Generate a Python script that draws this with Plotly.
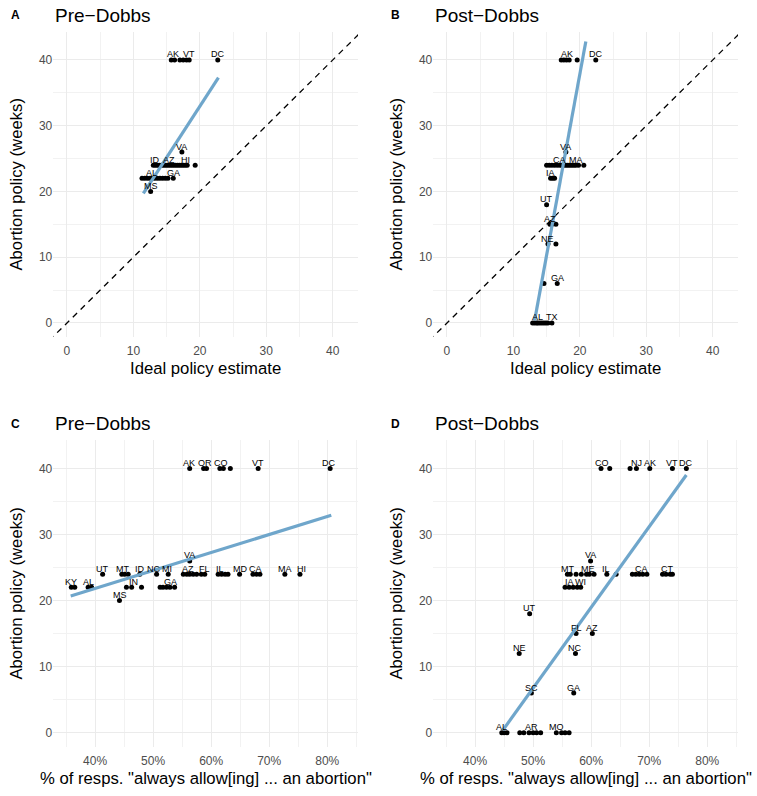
import plotly.graph_objects as go

FONT = "Liberation Sans, Arial, Helvetica, sans-serif"

# ---------------- Panel A: Pre-Dobbs, ideal policy estimate ----------------
A_x = [15.7, 16.2, 17.0, 17.5, 18.0, 18.4, 22.7,
       17.3,
       13.0, 13.3, 13.6, 13.9, 14.2, 14.5, 14.8, 15.1, 15.4, 15.7, 16.0, 16.3, 16.6, 16.9, 17.2, 17.5, 17.8, 18.1, 19.3,
       11.3, 11.7, 12.1, 12.5, 12.8, 13.2, 13.6, 14.0, 14.4, 14.8, 15.2, 16.0,
       12.6]
A_y = [40, 40, 40, 40, 40, 40, 40,
       26,
       24, 24, 24, 24, 24, 24, 24, 24, 24, 24, 24, 24, 24, 24, 24, 24, 24, 24, 24,
       22, 22, 22, 22, 22, 22, 22, 22, 22, 22, 22, 22,
       20]
A_lab = ["AK", "VT", "DC", "VA", "ID", "AZ", "HI", "AL", "GA", "MS"]
A_lab_x = [15.9, 18.4, 22.7, 17.3, 13.3, 15.4, 17.8, 12.7, 16.1, 12.6]
A_lab_y = [40, 40, 40, 26, 24, 24, 24, 22, 22, 20]
A_fit_x = [11.5, 22.8]
A_fit_y = [19.7, 37.3]

# ---------------- Panel B: Post-Dobbs, ideal policy estimate ----------------
B_x = [17.2, 17.6, 18.0, 18.4, 19.6, 22.4,
       17.9,
       15.0, 15.4, 15.8, 16.2, 16.6, 17.0, 17.3, 17.6, 17.9, 18.2, 18.5, 18.8, 19.1, 19.4, 19.8, 20.6,
       15.6, 15.9, 16.2,
       15.0,
       15.5, 15.8, 16.4,
       15.2, 16.4,
       14.6, 16.6,
       12.9, 13.2, 13.5, 13.7, 14.0, 14.3, 14.6, 14.9, 15.2, 15.8]
B_y = [40, 40, 40, 40, 40, 40,
       26,
       24, 24, 24, 24, 24, 24, 24, 24, 24, 24, 24, 24, 24, 24, 24, 24,
       22, 22, 22,
       18,
       15, 15, 15,
       12, 12,
       6, 6,
       0, 0, 0, 0, 0, 0, 0, 0, 0, 0]
B_lab = ["AK", "DC", "VA", "CA", "MA", "IA", "UT", "AZ", "NE", "GA", "AL", "TX"]
B_lab_x = [18.0, 22.4, 17.9, 17.0, 19.4, 15.6, 15.0, 15.5, 15.2, 16.6, 13.7, 15.8]
B_lab_y = [40, 40, 26, 24, 24, 22, 18, 15, 12, 6, 0, 0]
B_fit_x = [13.2, 20.9]
B_fit_y = [0.4, 42.8]

# ---------------- Panel C: Pre-Dobbs, % always allow ----------------
C_x = [56.3, 58.7, 59.2, 61.5, 62.1, 63.3, 68.1, 80.5,
       56.3,
       41.3, 44.6, 45.1, 45.7, 47.7, 50.6, 52.6, 55.2, 55.8, 56.3, 56.9, 57.5, 58.3, 58.9,
       61.2, 61.8, 62.4, 62.9, 64.9, 67.2, 67.8, 68.4, 72.7, 75.3,
       35.9, 36.5, 38.8, 39.4, 45.4, 46.3, 48.0, 51.2, 51.7, 52.3, 52.9, 53.7,
       44.2]
C_y = [40, 40, 40, 40, 40, 40, 40, 40,
       26,
       24, 24, 24, 24, 24, 24, 24, 24, 24, 24, 24, 24, 24, 24,
       24, 24, 24, 24, 24, 24, 24, 24, 24, 24,
       22, 22, 22, 22, 22, 22, 22, 22, 22, 22, 22, 22,
       20]
C_lab = ["AK", "OR", "CO", "VT", "DC", "VA", "UT", "MT", "ID", "NC", "MI", "AZ", "FL", "IL",
         "MD", "CA", "MA", "HI", "KY", "AL", "IN", "GA", "MS"]
C_lab_x = [56.2, 59.0, 61.7, 68.1, 80.3, 56.3, 41.3, 44.8, 47.7, 50.1, 52.4, 56.0, 58.9, 61.6,
           65.0, 67.7, 72.7, 75.5, 35.9, 38.9, 46.7, 53.0, 44.3]
C_lab_y = [40, 40, 40, 40, 40, 26, 24, 24, 24, 24, 24, 24, 24, 24,
           24, 24, 24, 24, 22, 22, 22, 22, 20]
C_fit_x = [35.8, 80.7]
C_fit_y = [20.7, 32.9]

# ---------------- Panel D: Post-Dobbs, % always allow ----------------
D_x = [61.7, 63.2, 66.7, 67.8, 70.1, 74.0, 76.4,
       59.9,
       55.9, 56.4, 57.4, 58.3, 59.2, 59.7, 60.5, 62.7, 64.3, 67.1, 67.7, 68.3, 68.9, 69.6, 72.3, 72.9, 73.6, 74.0,
       55.5, 56.2, 56.9, 57.6, 58.2,
       49.4,
       57.4, 60.2,
       47.6, 57.3,
       49.7, 57.0,
       44.6, 45.0, 45.5, 47.7, 48.4, 49.3, 50.0, 50.6, 51.3, 54.0, 54.9, 55.5, 56.2]
D_y = [40, 40, 40, 40, 40, 40, 40,
       26,
       24, 24, 24, 24, 24, 24, 24, 24, 24, 24, 24, 24, 24, 24, 24, 24, 24, 24,
       22, 22, 22, 22, 22,
       18,
       15, 15,
       12, 12,
       6, 6,
       0, 0, 0, 0, 0, 0, 0, 0, 0, 0, 0, 0, 0]
D_lab = ["CO", "NJ", "AK", "VT", "DC", "VA", "MT", "ME", "IL", "CA", "CT", "IA", "WI", "UT",
         "FL", "AZ", "NE", "NC", "SC", "GA", "AL", "AR", "MO"]
D_lab_x = [61.8, 67.8, 70.1, 74.0, 76.4, 59.9, 56.0, 59.5, 62.5, 68.7, 73.2, 56.3, 58.2, 49.4,
           57.4, 60.2, 47.6, 57.3, 49.7, 57.0, 44.6, 49.7, 54.0]
D_lab_y = [40, 40, 40, 40, 40, 26, 24, 24, 24, 24, 24, 22, 22, 18,
           15, 15, 12, 12, 6, 6, 0, 0, 0]
D_fit_x = [44.8, 76.4]
D_fit_y = [0.4, 39.0]

# ---------------- axis ticks ----------------
ideal_ticks = [0, 10, 20, 30, 40]
ideal_minor = [5, 15, 25, 35]
pct_ticks = [40, 50, 60, 70, 80]
pct_labels = ["40%", "50%", "60%", "70%", "80%"]
pct_minor = [35, 45, 55, 65, 75, 85]
week_ticks = [0, 10, 20, 30, 40]
week_minor = [5, 15, 25, 35]
diag = [-5, 50]

titles = ["Pre\u2212Dobbs", "Post\u2212Dobbs", "Pre\u2212Dobbs", "Post\u2212Dobbs"]
letters = ["A", "B", "C", "D"]
xtitles = ["Ideal policy estimate", "Ideal policy estimate",
           '% of resps. "always allow[ing] ... an abortion"',
           '% of resps. "always allow[ing] ... an abortion"']

W, H = 757, 796
LINE_COL = "#6FA6CB"

panels = [
    (A_x, A_y, A_lab, A_lab_x, A_lab_y, A_fit_x, A_fit_y, True),
    (B_x, B_y, B_lab, B_lab_x, B_lab_y, B_fit_x, B_fit_y, True),
    (C_x, C_y, C_lab, C_lab_x, C_lab_y, C_fit_x, C_fit_y, False),
    (D_x, D_y, D_lab, D_lab_x, D_lab_y, D_fit_x, D_fit_y, False),
]

# pixel geometry of panel areas
xl = [53.3, 433.3, 53.3, 433.3]
xr = [358.0, 738.0, 358.0, 738.0]
yt = [31.7, 31.7, 440.0, 440.0]
yb = [336.8, 336.8, 746.6, 746.6]

fig = go.Figure()
annotations = []
layout = {}

for i, (px, py, lab, lx, ly, fx, fy, ideal) in enumerate(panels):
    s = "" if i == 0 else str(i + 1)
    xa, ya = "x" + s, "y" + s
    if ideal:
        fig.add_trace(go.Scatter(x=diag, y=diag, mode="lines", xaxis=xa, yaxis=ya,
                                 line=dict(color="black", width=1.3, dash="6px,5px"),
                                 hoverinfo="skip"))
    fig.add_trace(go.Scatter(x=px, y=py, mode="markers", xaxis=xa, yaxis=ya,
                             marker=dict(color="black", size=5, line=dict(width=0))))
    fig.add_trace(go.Scatter(x=fx, y=fy, mode="lines", xaxis=xa, yaxis=ya,
                             line=dict(color=LINE_COL, width=3.2)))
    for t, tx, ty in zip(lab, lx, ly):
        annotations.append(dict(x=tx, y=ty, xref=xa, yref=ya, text=t, showarrow=False,
                                yshift=5.5, xanchor="center", yanchor="middle",
                                font=dict(family=FONT, size=9, color="black")))

    xdom = [xl[i] / W, xr[i] / W]
    ydom = [1 - yb[i] / H, 1 - yt[i] / H]
    grid = dict(showgrid=True, gridcolor="#EBEBEB", gridwidth=1.1, zeroline=False,
                showline=False, ticks="", tickfont=dict(family=FONT, size=12, color="#4D4D4D"))
    if ideal:
        xax = dict(domain=xdom, range=[-2.05, 43.8], tickvals=ideal_ticks,
                   minor=dict(tickvals=ideal_minor, showgrid=True, gridcolor="#F2F2F2", gridwidth=0.6),
                   anchor=ya, ticklabelstandoff=5, **grid)
    else:
        xax = dict(domain=xdom, range=[32.8, 85.3], tickvals=pct_ticks, ticktext=pct_labels,
                   minor=dict(tickvals=pct_minor, showgrid=True, gridcolor="#F2F2F2", gridwidth=0.6),
                   anchor=ya, ticklabelstandoff=5, **grid)
    yax = dict(domain=ydom, range=[-2.1, 44.3], tickvals=week_ticks,
               minor=dict(tickvals=week_minor, showgrid=True, gridcolor="#F2F2F2", gridwidth=0.6),
               anchor=xa, **grid)
    layout["xaxis" + s] = xax
    layout["yaxis" + s] = yax

    # panel title and letter
    ty_px = yt[i] - 16.5
    annotations.append(dict(x=xl[i] / W, y=1 - ty_px / H, xref="paper", yref="paper",
                            text=titles[i], showarrow=False, xanchor="left", yanchor="middle",
                            font=dict(family=FONT, size=19, color="black")))
    annotations.append(dict(x=(xl[i] - 44) / W, y=1 - ty_px / H, xref="paper", yref="paper",
                            text="<b>" + letters[i] + "</b>", showarrow=False, xanchor="left",
                            yanchor="middle", font=dict(family=FONT, size=12, color="black")))
    # axis titles
    annotations.append(dict(x=(xl[i] + xr[i]) / 2 / W, y=1 - (yb[i] + 32) / H, xref="paper",
                            yref="paper", text=xtitles[i], showarrow=False, xanchor="center",
                            yanchor="middle", font=dict(family=FONT, size=16.7, color="black")))
    annotations.append(dict(x=(xl[i] - 37) / W, y=1 - (yt[i] + yb[i]) / 2 / H, xref="paper",
                            yref="paper", text="Abortion policy (weeks)", showarrow=False,
                            textangle=-90, xanchor="center", yanchor="middle",
                            font=dict(family=FONT, size=16.7, color="black")))

fig.update_layout(width=W, height=H, margin=dict(l=0, r=0, t=0, b=0),
                  paper_bgcolor="white", plot_bgcolor="white", showlegend=False,
                  font=dict(family=FONT), annotations=annotations, **layout)

fig.write_html("out.html")
